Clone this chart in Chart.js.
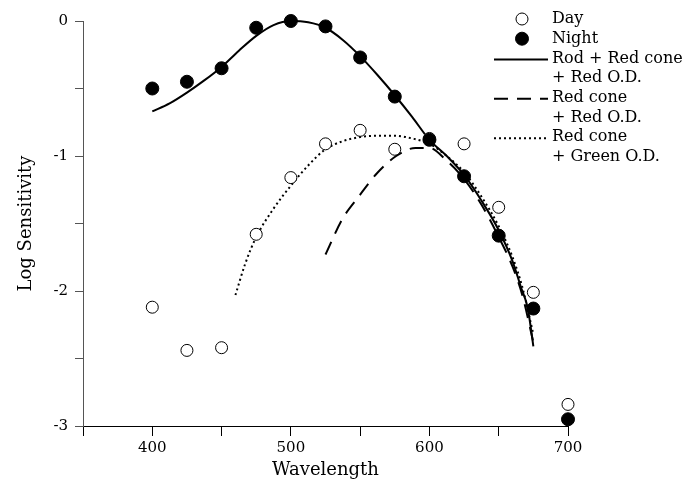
<!DOCTYPE html>
<html>
<head>
<meta charset="utf-8">
<script src="https://cdn.jsdelivr.net/npm/chart.js@4.4.1/dist/chart.umd.min.js"></script>
<style>
html,body{margin:0;padding:0;background:#fff;}
#wrap{width:699px;height:482px;}
</style>
</head>
<body>
<div id="wrap"><canvas id="c" width="699" height="482"></canvas></div>
<script>
// Measured points
const wavelengths = [400, 425, 450, 475, 500, 525, 550, 575, 600, 625, 650, 675, 700];
const daySensitivity = [-2.12, -2.44, -2.42, -1.58, -1.16, -0.91, -0.81, -0.95, -0.87, -0.91, -1.38, -2.01, -2.84];
const nightSensitivity = [-0.50, -0.45, -0.35, -0.05, 0.00, -0.04, -0.27, -0.56, -0.88, -1.15, -1.59, -2.13, -2.95];

// Fitted curves
const rodCurveX = [400, 412.5, 425, 437.5, 450, 462.5, 475, 487.5, 500, 512.5, 525, 537.5, 550, 562.5, 575, 587.5, 600, 612.5, 625, 637.5, 650, 660, 666, 671, 675];
const rodCurveY = [-0.67, -0.61, -0.53, -0.44, -0.34, -0.22, -0.11, -0.03, 0.00, -0.01, -0.05, -0.14, -0.26, -0.40, -0.55, -0.71, -0.88, -1.00, -1.14, -1.33, -1.55, -1.78, -1.97, -2.13, -2.41];
const redConeRedX = [525, 537, 549, 562, 576, 590, 600, 612, 625, 637.5, 650, 660, 667, 675];
const redConeRedY = [-1.73, -1.47, -1.30, -1.13, -1.00, -0.94, -0.94, -1.03, -1.17, -1.36, -1.60, -1.82, -2.03, -2.38];
const redConeGreenX = [460, 467, 475, 487.5, 500, 512.5, 525, 537.5, 550, 562.5, 575, 587.5, 600, 612.5, 625, 637.5, 650, 660, 667, 675];
const redConeGreenY = [-2.03, -1.80, -1.60, -1.39, -1.22, -1.07, -0.95, -0.89, -0.86, -0.85, -0.85, -0.87, -0.91, -1.00, -1.12, -1.30, -1.52, -1.75, -1.97, -2.32];

const legendLabels = [["Day"], ["Night"], ["Rod + Red cone", "+ Red O.D."], ["Red cone", "+ Red O.D."], ["Red cone", "+ Green O.D."]];

const toXY = (xs, ys) => xs.map((x, i) => ({x: x, y: ys[i]}));
const FONT = "'DejaVu Serif', 'Liberation Serif', serif";

const datasets = [
  {label: legendLabels[1], type: 'scatter', data: toXY(wavelengths, nightSensitivity), pointRadius: 6.5, pointBackgroundColor: '#000', pointBorderColor: '#000', pointBorderWidth: 1, showLine: false, order: 0, clip: false, kind: 'filled'},
  {label: legendLabels[0], type: 'scatter', data: toXY(wavelengths, daySensitivity), pointRadius: 6, pointBackgroundColor: '#fff', pointBorderColor: '#000', pointBorderWidth: 1, showLine: false, order: 1, clip: false, kind: 'open'},
  {label: legendLabels[2], type: 'line', data: toXY(rodCurveX, rodCurveY), borderColor: '#000', borderWidth: 2, pointRadius: 0, cubicInterpolationMode: 'monotone', fill: false, order: 2, clip: false, kind: 'line'},
  {label: legendLabels[3], type: 'line', data: toXY(redConeRedX, redConeRedY), borderColor: '#000', borderWidth: 2, borderDash: [14, 9], pointRadius: 0, cubicInterpolationMode: 'monotone', fill: false, order: 3, clip: false, kind: 'line'},
  {label: legendLabels[4], type: 'line', data: toXY(redConeGreenX, redConeGreenY), borderColor: '#000', borderWidth: 2, borderDash: [2, 3], pointRadius: 0, cubicInterpolationMode: 'monotone', fill: false, order: 4, clip: false, kind: 'line'}
];

const legendPlugin = {
  id: 'customLegend',
  afterDraw(chart) {
    const ctx = chart.ctx;
    const order = [1, 0, 2, 3, 4];
    const markX = 522, textX = 552, lineX0 = 494, lineX1 = 548;
    let y = 19;
    const step = 19.7;
    ctx.save();
    ctx.font = "16px " + FONT;
    ctx.textBaseline = 'middle';
    ctx.fillStyle = '#000';
    order.forEach(idx => {
      const ds = chart.data.datasets[idx];
      ctx.save();
      ctx.strokeStyle = '#000';
      ctx.fillStyle = ds.pointBackgroundColor || '#000';
      if (ds.kind === 'open' || ds.kind === 'filled') {
        ctx.beginPath();
        ctx.arc(markX, y, ds.kind === 'filled' ? 6.5 : 6, 0, Math.PI * 2);
        ctx.fill();
        ctx.lineWidth = 1;
        ctx.stroke();
      } else {
        ctx.lineWidth = ds.borderWidth;
        ctx.setLineDash(ds.borderDash || []);
        ctx.beginPath();
        ctx.moveTo(lineX0, y + 1);
        ctx.lineTo(lineX1, y + 1);
        ctx.stroke();
      }
      ctx.restore();
      ds.label.forEach(line => {
        ctx.fillStyle = '#000';
        ctx.fillText(line, textX, y);
        y += step;
      });
    });
    ctx.restore();
  }
};

new Chart(document.getElementById('c'), {
  type: 'scatter',
  data: {datasets: datasets},
  plugins: [legendPlugin],
  options: {
    responsive: false,
    animation: false,
    events: [],
    layout: {padding: {top: 21, right: 131, left: 0, bottom: 0}},
    plugins: {legend: {display: false}, tooltip: {enabled: false}},
    scales: {
      x: {
        type: 'linear', min: 350, max: 700,
        afterFit(s) { s.height = 56; },
        ticks: {stepSize: 50, autoSkip: false, maxRotation: 0, padding: 3, color: '#000',
          font: {family: FONT, size: 15},
          callback: v => (v % 100 === 0 ? String(v) : '')},
        grid: {drawOnChartArea: false, drawTicks: true, tickLength: 10, color: '#000', tickWidth: 1},
        border: {display: true, color: '#000', width: 1},
        title: {display: true, text: 'Wavelength', color: '#000', font: {family: FONT, size: 18}, padding: {top: 0, bottom: 1}}
      },
      y: {
        type: 'linear', min: -3, max: 0,
        afterFit(s) { s.width = 83; },
        ticks: {stepSize: 0.5, autoSkip: false, padding: 7, color: '#000',
          font: {family: FONT, size: 15},
          callback: v => (Number.isInteger(v) ? String(v) : '')},
        grid: {drawOnChartArea: false, drawTicks: true, tickLength: 8, color: '#555', tickWidth: 1},
        border: {display: true, color: '#555', width: 1},
        title: {display: true, text: 'Log Sensitivity', color: '#000', font: {family: FONT, size: 18}, padding: {top: 16, bottom: 0}}
      }
    }
  }
});
</script>
</body>
</html>
